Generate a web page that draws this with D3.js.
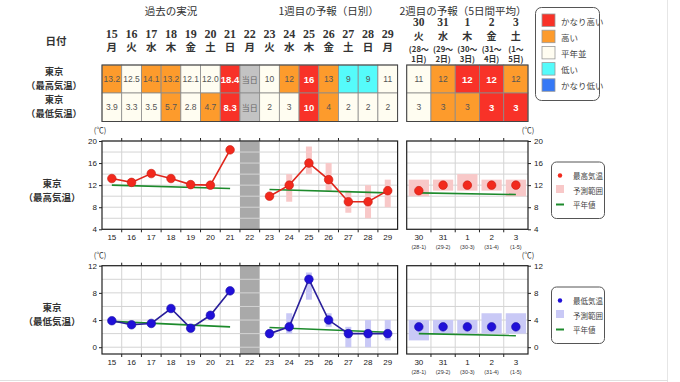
<!DOCTYPE html>
<html><head><meta charset="utf-8">
<script src="https://cdn.jsdelivr.net/npm/d3@7"></script>
<style>
body{margin:0;background:#fff;}
svg{display:block;font-family:"Noto Sans CJK JP","Liberation Sans",sans-serif;}
</style></head>
<body><svg id="c" width="680" height="382"></svg>
<script>
// ---------- data ----------
const days1 = ["15","16","17","18","19","20","21","22","23","24","25","26","27","28","29"];
const weekdays1 = ["月","火","水","木","金","土","日","月","火","水","木","金","土","日","月"];
const days2 = ["30","31","1","2","3"];
const weekdays2 = ["火","水","木","金","土"];
const periodTop2 = ["(28〜","(29〜","(30〜","(31〜","(1〜"];
const periodBot2 = ["1日)","2日)","3日)","4日)","5日)"];
const periodAxis2 = ["(28-1)","(29-2)","(30-3)","(31-4)","(1-5)"];

const pastDays = ["15","16","17","18","19","20","21"];
const todayDay = "22";
const fcDays = ["23","24","25","26","27","28","29"];

// max temperature
const maxPast = [13.2,12.5,14.1,13.2,12.1,12.0,18.4];
const maxPastCls = ["H","N","H","H","N","N","H2"];
const maxFc = [10,12,16,13,9,9,11];
const maxFcCls = ["N","H","H2","H","L","L","N"];
const maxFcLo = [null,9,14,11,7,6,8];
const maxFcHi = [null,14,19,16,11,12,13];
const maxW2 = [11,12,12,12,12];
const maxW2Cls = ["N","H","H2","H2","H"];
const maxW2Lo = [10,11,11,11,10];
const maxW2Hi = [13,13,14,13,13];
const maxNormPast = [12.0,11.4];   // at 15 and 21
const maxNormFc = [11.2,10.6];     // at 23 and 29
const maxNormW2 = [10.6,10.3];     // at 30 and 3

// min temperature
const minPast = [3.9,3.3,3.5,5.7,2.8,4.7,8.3];
const minPastCls = ["N","N","N","H","N","H","H2"];
const minFc = [2,3,10,4,2,2,2];
const minFcCls = ["N","N","H2","H","N","N","N"];
const minFcLo = [null,2,7,3,0,0,1];
const minFcHi = [null,5,11,5,3,4,4];
const minW2 = [3,3,3,3,3];
const minW2Cls = ["N","H","H","H2","H2"];
const minW2Lo = [1,2,2,2,2];
const minW2Hi = [4,4,4,5,5];
const minNormPast = [3.8,3.0];
const minNormFc = [2.9,2.2];
const minNormW2 = [2.0,1.7];

const maxTicks = [4,8,12,16,20];
const minTicks = [0,4,8,12];
const legendCls = ["H2","H","N","L","L2"];
const legendText = ["かなり高い","高い","平年並","低い","かなり低い"];

// ---------- styles ----------
const cellFill = {H2:"#f83228",H:"#fd9b2c",N:"#fffdf1",L:"#55fbfb",L2:"#3578f6",T:"#c3c3c3"};
const svg = d3.select("#c");

// page border
svg.append("line").attr("x1",667.5).attr("x2",667.5).attr("y1",0).attr("y2",382).attr("stroke","#e6e6e6");
svg.append("line").attr("x1",0).attr("x2",668).attr("y1",380.5).attr("y2",380.5).attr("stroke","#e0e0e0");

const x1 = d3.scaleBand().domain(days1).range([102,397.6]);
const x2 = d3.scaleBand().domain(days2).range([406.7,528]);

// ---------- table headers ----------
const hdr = svg.append("g").attr("font-size",10.5).attr("fill","#333").attr("text-anchor","middle").attr("dominant-baseline","central");
hdr.append("text").attr("x",(x1("15")+x1("21")+x1.bandwidth())/2).attr("y",10).text("過去の実況");
hdr.append("text").attr("x",(x1("23")+x1("29")+x1.bandwidth())/2).attr("y",10).text("1週目の予報（日別）");
hdr.append("text").attr("x",463).attr("y",10).text("2週目の予報（5日間平均）");
hdr.append("text").attr("x",56).attr("y",40).attr("font-weight","bold").attr("font-size",10.5).text("日付");

days1.forEach((d,i)=>{
  const cx = x1(d)+x1.bandwidth()/2;
  hdr.append("text").attr("x",cx).attr("y",33.5).attr("font-weight","bold").attr("font-size",12)
     .attr("font-family","'Liberation Serif',serif").text(d);
  hdr.append("text").attr("x",cx).attr("y",46.5).attr("font-weight","bold").attr("font-size",10.5).text(weekdays1[i]);
});
days2.forEach((d,i)=>{
  const cx = x2(d)+x2.bandwidth()/2;
  hdr.append("text").attr("x",cx).attr("y",22).attr("font-weight","bold").attr("font-size",11.5)
     .attr("font-family","'Liberation Serif',serif").text(d);
  hdr.append("text").attr("x",cx).attr("y",35).attr("font-weight","bold").attr("font-size",10).text(weekdays2[i]);
  hdr.append("text").attr("x",cx).attr("y",48).attr("font-weight","bold").attr("font-size",7.8).text(periodTop2[i]);
  hdr.append("text").attr("x",cx).attr("y",58.5).attr("font-weight","bold").attr("font-size",7.8).text(periodBot2[i]);
});

// row labels
const rl = svg.append("g").attr("text-anchor","middle").attr("dominant-baseline","central").attr("fill","#333").attr("font-weight","bold").attr("font-size",9.3);
[["東京",71],["（最高気温）",84.5],["東京",98.5],["（最低気温）",112.5]].forEach(([t,y])=>rl.append("text").attr("x",54).attr("y",y).text(t));

// ---------- table cells ----------
const rowY = [65,93,121.5];
function drawCell(x,w,y0,y1,cls,txt){
  const g = svg.append("g");
  g.append("rect").attr("x",x).attr("y",y0).attr("width",w).attr("height",y1-y0)
    .attr("fill",cellFill[cls]).attr("stroke","#8a8a8a").attr("stroke-width",0.8);
  const strong = cls==="H2";
  const isToday = cls==="T";
  g.append("text").attr("x",x+w/2).attr("y",(y0+y1)/2).attr("text-anchor","middle").attr("dominant-baseline","central")
    .attr("font-size",isToday?8:(strong?9.5:8.5)).attr("font-weight",strong?"bold":"normal")
    .attr("font-family",isToday?"'Noto Sans CJK JP',sans-serif":"'Liberation Sans',sans-serif")
    .attr("fill",strong?"#fff":(isToday?"#666":"#555")).text(txt);
}
function tableRow(r, past, pastCls, fc, fcCls, w2, w2Cls){
  const y0=rowY[r], y1=rowY[r+1];
  pastDays.forEach((d,i)=>drawCell(x1(d),x1.bandwidth(),y0,y1,pastCls[i],past[i].toFixed(1)));
  drawCell(x1(todayDay),x1.bandwidth(),y0,y1,"T","当日");
  fcDays.forEach((d,i)=>drawCell(x1(d),x1.bandwidth(),y0,y1,fcCls[i],String(fc[i])));
  days2.forEach((d,i)=>drawCell(x2(d),x2.bandwidth(),y0,y1,w2Cls[i],String(w2[i])));
}
tableRow(0,maxPast,maxPastCls,maxFc,maxFcCls,maxW2,maxW2Cls);
tableRow(1,minPast,minPastCls,minFc,minFcCls,minW2,minW2Cls);
// outer borders
svg.append("rect").attr("x",x1.range()[0]).attr("y",rowY[0]).attr("width",x1.range()[1]-x1.range()[0]).attr("height",rowY[2]-rowY[0]).attr("fill","none").attr("stroke","#444").attr("stroke-width",1);
svg.append("rect").attr("x",x2.range()[0]).attr("y",rowY[0]).attr("width",x2.range()[1]-x2.range()[0]).attr("height",rowY[2]-rowY[0]).attr("fill","none").attr("stroke","#444").attr("stroke-width",1);

// ---------- colour legend ----------
const lg = svg.append("g");
lg.append("rect").attr("x",535.5).attr("y",7.5).attr("width",64).attr("height",93).attr("rx",6).attr("fill","#fff").attr("stroke","#555").attr("stroke-width",1);
legendCls.forEach((c,i)=>{
  const y = 14 + i*16.2;
  lg.append("rect").attr("x",542).attr("y",y).attr("width",13).attr("height",12.5).attr("fill",cellFill[c]).attr("stroke","#999").attr("stroke-width",0.8);
  lg.append("text").attr("x",561).attr("y",y+6.5).attr("dominant-baseline","central").attr("font-size",8.5).attr("fill","#444").text(legendText[i]);
});

// ---------- charts ----------
function chart(opt){
  const y = d3.scaleLinear().domain(opt.domain).range(opt.range);
  const [yb,yt] = opt.range;
  const g = svg.append("g");
  const frames = [x1.range(), x2.range()];
  // today band
  g.append("rect").attr("x",x1(todayDay)).attr("y",yt).attr("width",x1.bandwidth()).attr("height",yb-yt).attr("fill","#a9a9a9");
  // grid
  const gridVals = d3.range(Math.ceil(opt.domain[0]/2)*2, opt.domain[1]+0.01, 2);
  frames.forEach(([a,b])=>{
    gridVals.forEach(v=>g.append("line").attr("x1",a).attr("x2",b).attr("y1",y(v)).attr("y2",y(v)).attr("stroke","#d4d4d4").attr("stroke-width",1));
  });
  days1.slice(1).forEach(d=>{
    if (d===todayDay || d==="23") return;
    g.append("line").attr("x1",x1(d)).attr("x2",x1(d)).attr("y1",yt).attr("y2",yb).attr("stroke","#d4d4d4");
  });
  days2.slice(1).forEach(d=>g.append("line").attr("x1",x2(d)).attr("x2",x2(d)).attr("y1",yt).attr("y2",yb).attr("stroke","#d4d4d4"));
  // boundary ticks top & bottom
  const tickXs = days1.slice(1).map(d=>x1(d)).concat(days2.slice(1).map(d=>x2(d)));
  tickXs.forEach(tx=>{
    g.append("line").attr("x1",tx).attr("x2",tx).attr("y1",yt-3).attr("y2",yt).attr("stroke","#222");
    g.append("line").attr("x1",tx).attr("x2",tx).attr("y1",yb).attr("y2",yb+3).attr("stroke","#222");
  });
  // ranges
  fcDays.forEach((d,i)=>{
    if (opt.fcLo[i]==null) return;
    const cx = x1(d)+x1.bandwidth()/2;
    g.append("rect").attr("x",cx-3).attr("y",y(opt.fcHi[i])).attr("width",6).attr("height",y(opt.fcLo[i])-y(opt.fcHi[i])).attr("fill",opt.rangeColor);
  });
  days2.forEach((d,i)=>{
    g.append("rect").attr("x",x2(d)+2).attr("y",y(opt.w2Hi[i])).attr("width",x2.bandwidth()-4).attr("height",y(opt.w2Lo[i])-y(opt.w2Hi[i])).attr("fill",opt.rangeColor);
  });
  // normals
  const c1 = d=>x1(d)+x1.bandwidth()/2, c2 = d=>x2(d)+x2.bandwidth()/2;
  const norm = (xa,xb,vals)=>g.append("line").attr("x1",xa).attr("x2",xb).attr("y1",y(vals[0])).attr("y2",y(vals[1])).attr("stroke","#1d8a2c").attr("stroke-width",1.6);
  norm(c1(pastDays[0]),c1(pastDays[6]),opt.normPast);
  norm(c1(fcDays[0]),c1(fcDays[6]),opt.normFc);
  norm(c2(days2[0]),c2(days2[4]),opt.normW2);
  // lines
  const line = d3.line().x(d=>c1(d[0])).y(d=>y(d[1]));
  g.append("path").attr("d",line(pastDays.map((d,i)=>[d,opt.past[i]]))).attr("fill","none").attr("stroke",opt.lineColor).attr("stroke-width",1.6);
  g.append("path").attr("d",line(fcDays.map((d,i)=>[d,opt.fc[i]]))).attr("fill","none").attr("stroke",opt.lineColor).attr("stroke-width",1.6);
  pastDays.forEach((d,i)=>g.append("circle").attr("cx",c1(d)).attr("cy",y(opt.past[i])).attr("r",4.3).attr("fill",opt.dotColor).attr("stroke",opt.dotStroke).attr("stroke-width",0.6));
  fcDays.forEach((d,i)=>g.append("circle").attr("cx",c1(d)).attr("cy",y(opt.fc[i])).attr("r",4.3).attr("fill",opt.dotColor).attr("stroke",opt.dotStroke).attr("stroke-width",0.6));
  days2.forEach((d,i)=>g.append("circle").attr("cx",c2(d)).attr("cy",y(opt.w2[i])).attr("r",4.3).attr("fill",opt.dotColor).attr("stroke",opt.dotStroke).attr("stroke-width",0.6));
  // frames
  frames.forEach(([a,b])=>g.append("rect").attr("x",a).attr("y",yt).attr("width",b-a).attr("height",yb-yt).attr("fill","none").attr("stroke","#222").attr("stroke-width",1.2));
  // y axes
  const ax = g.append("g").attr("transform",`translate(${x1.range()[0]},0)`).call(d3.axisLeft(y).tickValues(opt.ticks).tickSize(3).tickFormat(d3.format("d")));
  const ax2 = g.append("g").attr("transform",`translate(${x2.range()[1]},0)`).call(d3.axisRight(y).tickValues(opt.ticks).tickSize(3).tickFormat(d3.format("d")));
  [ax,ax2].forEach(a=>{a.select(".domain").remove(); a.selectAll("text").attr("font-size",8).attr("font-family","'Liberation Sans',sans-serif").attr("fill","#222"); a.selectAll("line").attr("stroke","#222");});
  ax.selectAll("text").attr("x",-5); ax2.selectAll("text").attr("x",6);
  g.append("text").attr("x",100).attr("y",yt-8).attr("text-anchor","middle").attr("font-size",7.5).attr("fill","#333").text("(℃)");
  g.append("text").attr("x",528).attr("y",yt-8).attr("text-anchor","middle").attr("font-size",7.5).attr("fill","#333").text("(℃)");
  // x labels
  const xa = g.append("g").attr("transform",`translate(0,${yb})`).call(d3.axisBottom(x1).tickSize(0).tickPadding(5));
  const xb = g.append("g").attr("transform",`translate(0,${yb})`).call(d3.axisBottom(x2).tickSize(0).tickPadding(5));
  [xa,xb].forEach(a=>{a.select(".domain").remove(); a.selectAll("text").attr("font-size",8).attr("font-family","'Liberation Sans',sans-serif").attr("fill","#222");});
  days2.forEach((d,i)=>g.append("text").attr("x",c2(d)).attr("y",yb+19.5).attr("text-anchor","middle").attr("font-size",5.5).attr("font-family","'Liberation Sans',sans-serif").attr("fill","#333").text(periodAxis2[i]));
  // side label
  const sl = g.append("g").attr("text-anchor","middle").attr("dominant-baseline","central").attr("font-size",9.5).attr("font-weight","bold").attr("fill","#333");
  sl.append("text").attr("x",52).attr("y",opt.labelY).text("東京");
  sl.append("text").attr("x",52).attr("y",opt.labelY+14).text(opt.label);
  // legend
  const L = g.append("g");
  L.append("rect").attr("x",551.5).attr("y",opt.legY).attr("width",53).attr("height",56.5).attr("rx",5).attr("fill","#fff").attr("stroke","#555");
  L.append("circle").attr("cx",560).attr("cy",opt.legY+13.5).attr("r",2.2).attr("fill",opt.dotColor);
  L.append("rect").attr("x",556).attr("y",opt.legY+23).attr("width",8).attr("height",8).attr("fill",opt.rangeColor);
  L.append("line").attr("x1",556).attr("x2",564).attr("y1",opt.legY+42.5).attr("y2",opt.legY+42.5).attr("stroke","#1d8a2c").attr("stroke-width",2);
  [opt.legName,"予測範囲","平年値"].forEach((t,i)=>L.append("text").attr("x",573).attr("y",opt.legY+13.5+i*14.5).attr("dominant-baseline","central").attr("font-size",7.5).attr("fill","#444").text(t));
}

chart({domain:[4,20],range:[229.3,141],ticks:maxTicks,past:maxPast,fc:maxFc,fcLo:maxFcLo,fcHi:maxFcHi,
  w2:maxW2,w2Lo:maxW2Lo,w2Hi:maxW2Hi,normPast:maxNormPast,normFc:maxNormFc,normW2:maxNormW2,
  lineColor:"#e0261c",dotColor:"#f2291d",dotStroke:"#c81c12",rangeColor:"#f8c8c8",
  label:"（最高気温）",labelY:183,legY:162,legName:"最高気温"});
chart({domain:[-1,12],range:[354,265.7],ticks:minTicks,past:minPast,fc:minFc,fcLo:minFcLo,fcHi:minFcHi,
  w2:minW2,w2Lo:minW2Lo,w2Hi:minW2Hi,normPast:minNormPast,normFc:minNormFc,normW2:minNormW2,
  lineColor:"#2a1f9a",dotColor:"#2010d8",dotStroke:"#1a0fa8",rangeColor:"#c9c9f6",
  label:"（最低気温）",labelY:307,legY:287,legName:"最低気温"});
</script></body></html>
